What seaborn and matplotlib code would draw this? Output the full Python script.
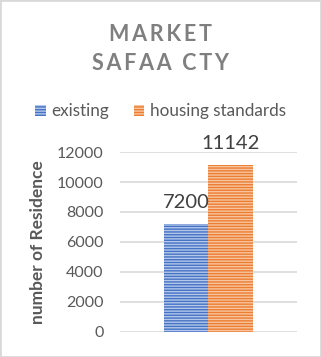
import numpy as np
import pandas as pd
import matplotlib
matplotlib.use('Agg')
import matplotlib.pyplot as plt
import seaborn as sns
from matplotlib.patches import Rectangle, Patch

# chart data
group = ["Market"]
series = ["existing", "housing standards"]
values = [7200, 11142]
yticks = [0, 2000, 4000, 6000, 8000, 10000, 12000]
colors = ["#4472C4", "#ED7D31"]
faces = ["#b4c7ea", "#f7c4a0"]

df = pd.DataFrame({"group": group * len(series), "series": series, "value": values})

sns.set_theme(style="white")
plt.rcParams['font.family'] = ['Lato', 'DejaVu Sans']
plt.rcParams['hatch.linewidth'] = 1.0

fig = plt.figure(figsize=(3.21, 3.57), dpi=100)
ax = fig.add_axes([0.374, 0.071, 0.551, 0.503])

sns.barplot(data=df, x="group", y="value", hue="series", hue_order=series,
            palette=colors, width=0.5, ax=ax, legend=False, linewidth=0)

# excel-style horizontal stripe pattern
for cont, col, fc in zip(ax.containers, colors, faces):
    for bar in cont:
        bar.set_facecolor(fc)
        bar.set_edgecolor(col)
        bar.set_hatch('------')
        bar.set_linewidth(0)
    ax.bar_label(cont, fmt='%d', padding=9, fontsize=14.5, color='#404040', clip_on=False)

ax.set_ylim(0, 12000)
ax.set_xlim(-0.5, 0.5)
ax.set_yticks(yticks)
ax.set_yticklabels([str(t) for t in yticks], fontsize=11.5, color='#595959')
ax.tick_params(axis='y', length=0, pad=12)
ax.set_xticks([])
ax.set_xlabel('')
ax.set_ylabel('number of Residence', fontsize=12.5, fontweight='bold', color='#595959', labelpad=8)
ax.grid(axis='y', color='#d9d9d9', linewidth=1.2)
ax.set_axisbelow(True)
for s in ax.spines.values():
    s.set_visible(False)

sp = "\u2009"
fig.text(0.5, 0.903, sp.join("MARKET"), ha='center', va='center',
         fontsize=15.5, fontweight='bold', color='#7f7f7f')
fig.text(0.5, 0.821, sp.join("SAFAA") + "  " + sp.join("CTY"), ha='center', va='center',
         fontsize=15.5, fontweight='bold', color='#7f7f7f')

handles = [Patch(facecolor=fc, edgecolor=c, hatch='------', linewidth=0) for c, fc in zip(colors, faces)]
fig.legend(handles, series, loc='center', bbox_to_anchor=(0.5, 0.688), ncol=2, frameon=False,
           fontsize=12.3, handlelength=0.6, handleheight=0.6, handletextpad=0.3,
           columnspacing=1.5, labelcolor='#595959')

fig.patches.append(Rectangle((0, 0), 1, 1, transform=fig.transFigure, fill=False,
                             edgecolor='#d9d9d9', linewidth=2, figure=fig))

fig.savefig('out.png', dpi=100)
